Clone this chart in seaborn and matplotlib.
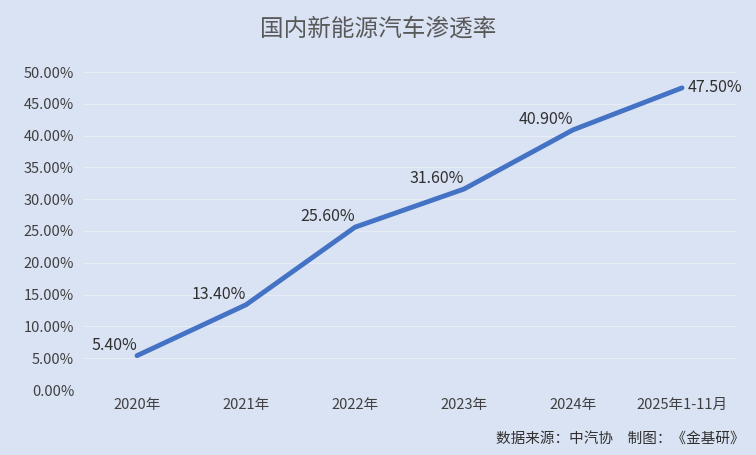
import matplotlib
matplotlib.use("Agg")
import matplotlib.pyplot as plt
import seaborn as sns
import pandas as pd
from matplotlib.ticker import PercentFormatter

years = ["2020年", "2021年", "2022年", "2023年", "2024年", "2025年1-11月"]
rates = [5.40, 13.40, 25.60, 31.60, 40.90, 47.50]
yticks = [0, 5, 10, 15, 20, 25, 30, 35, 40, 45, 50]

sns.set_theme(style="white")
plt.rcParams['font.family'] = ['Noto Sans CJK SC', 'DejaVu Sans']
bg = "#DAE3F3"
fig = plt.figure(figsize=(7.56, 4.55), dpi=100, facecolor=bg)
ax = fig.add_axes([82.5/756, 65/455, 654/756, 318/455], facecolor=bg)
df = pd.DataFrame({"x": range(len(years)), "y": rates})
sns.lineplot(data=df, x="x", y="y", ax=ax, color="#4472C4", linewidth=3.5)
ax.set_xlim(-0.5, 5.5)
ax.set_ylim(0, 50)
ax.set_yticks(yticks)
ax.yaxis.set_major_formatter(PercentFormatter(decimals=2))
ax.set_xticks(range(len(years)))
ax.set_xticklabels(years)
ax.tick_params(axis='both', labelsize=10.5, colors="#404040", length=0, pad=6)
ax.set_xlabel(""); ax.set_ylabel("")
for y in yticks:
    ax.axhline(y, color="#E8ECF5", linewidth=0.8, zorder=0)
for s in ax.spines.values():
    s.set_visible(False)
ax.axhline(0, color="#C8CFDC", linewidth=0.8, zorder=0)
for i, v in enumerate(rates):
    if i < 5:
        ax.text(i + 0.0, v + 0.3, f"{v:.2f}%", ha="right", va="bottom",
                fontsize=11.5, color="#303030")
    else:
        ax.text(i + 0.05, v, f"{v:.2f}%", ha="left", va="center",
                fontsize=11.5, color="#303030")
fig.text(0.5, 0.935, "国内新能源汽车渗透率", ha="center", va="center", fontsize=17, color="#595959")
fig.text(0.985, 0.02, "数据来源：中汽协　制图：《金基研》", ha="right", va="bottom", fontsize=10.5, color="#303030")
fig.savefig("out.png", dpi=100, facecolor=bg)
